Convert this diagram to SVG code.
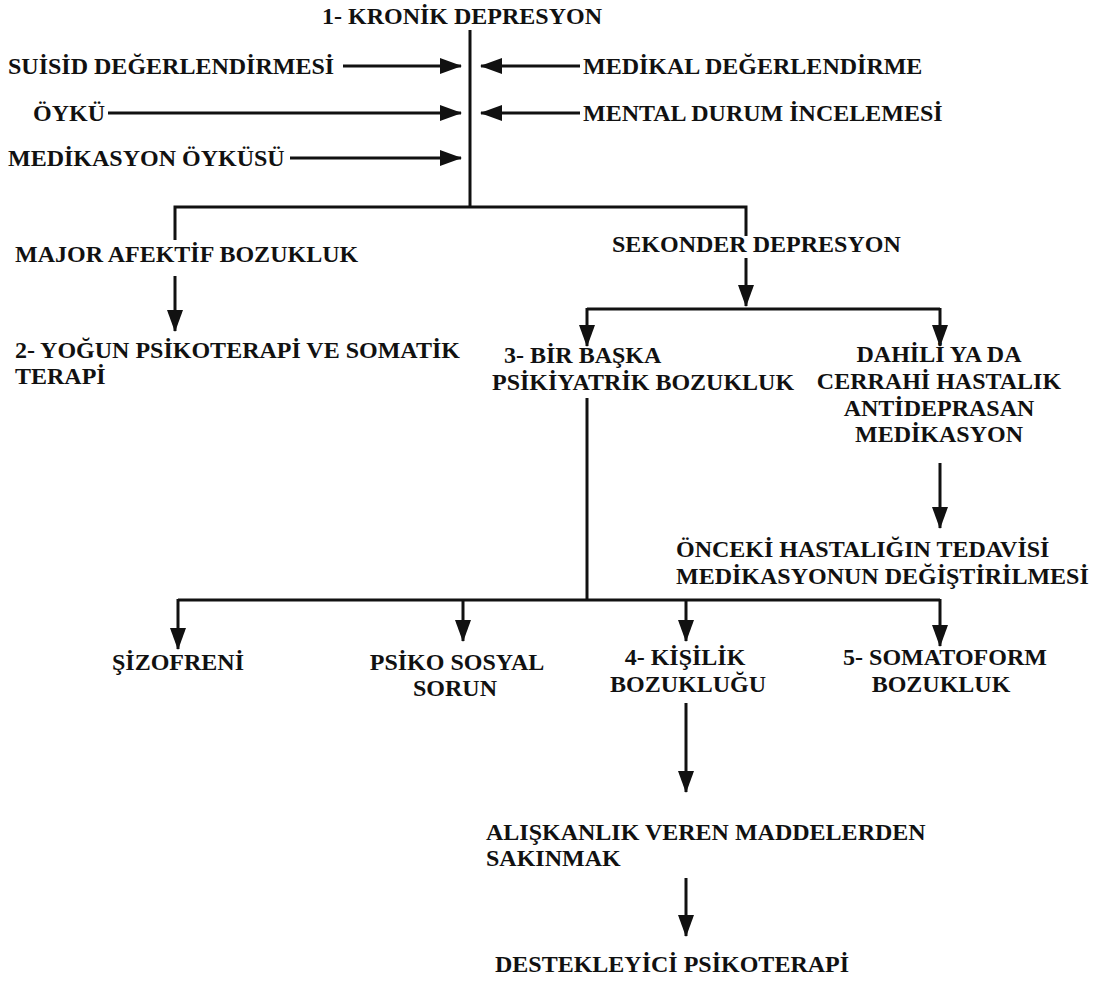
<svg xmlns="http://www.w3.org/2000/svg" width="1112" height="988" viewBox="0 0 1112 988">
<defs>
<style>
text{font-family:"Liberation Serif","Times New Roman",serif;font-weight:bold;font-size:24px;fill:#111}
.m{text-anchor:middle}
.c{stroke:#111;stroke-width:3;fill:none}
.a{stroke:#111;stroke-width:3;fill:none;marker-end:url(#ah)}
</style>
<marker id="ah" viewBox="0 0 22 16" refX="21" refY="8" markerWidth="22" markerHeight="16" markerUnits="userSpaceOnUse" orient="auto">
<path d="M0,0 L22,8 L0,16 z" fill="#111"/>
</marker>
</defs>
<rect width="1112" height="988" fill="#fff"/>
<g id="connectors">
<line class="c" x1="470" y1="30" x2="470" y2="208"/>
<line class="a" x1="343" y1="66" x2="461" y2="66"/>
<line class="a" x1="580" y1="66" x2="481" y2="66"/>
<line class="a" x1="108" y1="113" x2="461" y2="113"/>
<line class="a" x1="580" y1="113" x2="481" y2="113"/>
<line class="a" x1="290" y1="158" x2="461" y2="158"/>
<polyline class="c" points="175,240 175,207 746,207 746,236"/>
<line class="a" x1="175" y1="276" x2="175" y2="331"/>
<line class="a" x1="746" y1="258" x2="746" y2="306"/>
<line class="c" x1="587" y1="309" x2="940" y2="309"/>
<line class="a" x1="587" y1="308" x2="587" y2="346"/>
<line class="a" x1="940" y1="308" x2="940" y2="346"/>
<line class="a" x1="940" y1="463" x2="940" y2="528"/>
<line class="c" x1="587" y1="398" x2="587" y2="600"/>
<line class="c" x1="178" y1="600" x2="940" y2="600"/>
<line class="a" x1="178" y1="599" x2="178" y2="649"/>
<line class="a" x1="463" y1="600" x2="463" y2="641"/>
<line class="a" x1="686" y1="600" x2="686" y2="641"/>
<line class="a" x1="940" y1="599" x2="940" y2="646"/>
<line class="a" x1="686" y1="703" x2="686" y2="792"/>
<line class="a" x1="686" y1="878" x2="686" y2="936"/>
</g>
<g id="n1"><text x="462" y="24" class="m">1- KRONİK DEPRESYON</text></g>
<g id="n-suisid"><text x="8" y="74">SUİSİD DEĞERLENDİRMESİ</text></g>
<g id="n-medikal"><text x="583" y="74">MEDİKAL DEĞERLENDİRME</text></g>
<g id="n-oyku"><text x="33" y="121">ÖYKÜ</text></g>
<g id="n-mental"><text x="583" y="121">MENTAL DURUM İNCELEMESİ</text></g>
<g id="n-medoyku"><text x="8" y="166">MEDİKASYON ÖYKÜSÜ</text></g>
<g id="n-major"><text x="15" y="262">MAJOR AFEKTİF BOZUKLUK</text></g>
<g id="n-sekonder"><text x="612" y="252">SEKONDER DEPRESYON</text></g>
<g id="n2"><text x="15" y="358">2- YOĞUN PSİKOTERAPİ VE SOMATİK</text><text x="15" y="384">TERAPİ</text></g>
<g id="n3"><text x="504" y="363">3- BİR BAŞKA</text><text x="492" y="390">PSİKİYATRİK BOZUKLUK</text></g>
<g id="n-dahili"><text x="939" y="362" class="m">DAHİLİ YA DA</text><text x="939" y="389" class="m">CERRAHİ HASTALIK</text><text x="939" y="416" class="m">ANTİDEPRASAN</text><text x="939" y="442" class="m">MEDİKASYON</text></g>
<g id="n-onceki"><text x="676" y="557">ÖNCEKİ HASTALIĞIN TEDAVİSİ</text><text x="676" y="584">MEDİKASYONUN DEĞİŞTİRİLMESİ</text></g>
<g id="n-sizofreni"><text x="178" y="670" class="m">ŞİZOFRENİ</text></g>
<g id="n-psikososyal"><text x="457" y="670" class="m">PSİKO SOSYAL</text><text x="455" y="696" class="m">SORUN</text></g>
<g id="n4"><text x="685" y="665" class="m">4- KİŞİLİK</text><text x="688" y="692" class="m">BOZUKLUĞU</text></g>
<g id="n5"><text x="945" y="665" class="m">5- SOMATOFORM</text><text x="941" y="692" class="m">BOZUKLUK</text></g>
<g id="n-aliskanlik"><text x="486" y="840">ALIŞKANLIK VEREN MADDELERDEN</text><text x="486" y="866">SAKINMAK</text></g>
<g id="n-destek"><text x="672" y="972" class="m">DESTEKLEYİCİ PSİKOTERAPİ</text></g>
</svg>
